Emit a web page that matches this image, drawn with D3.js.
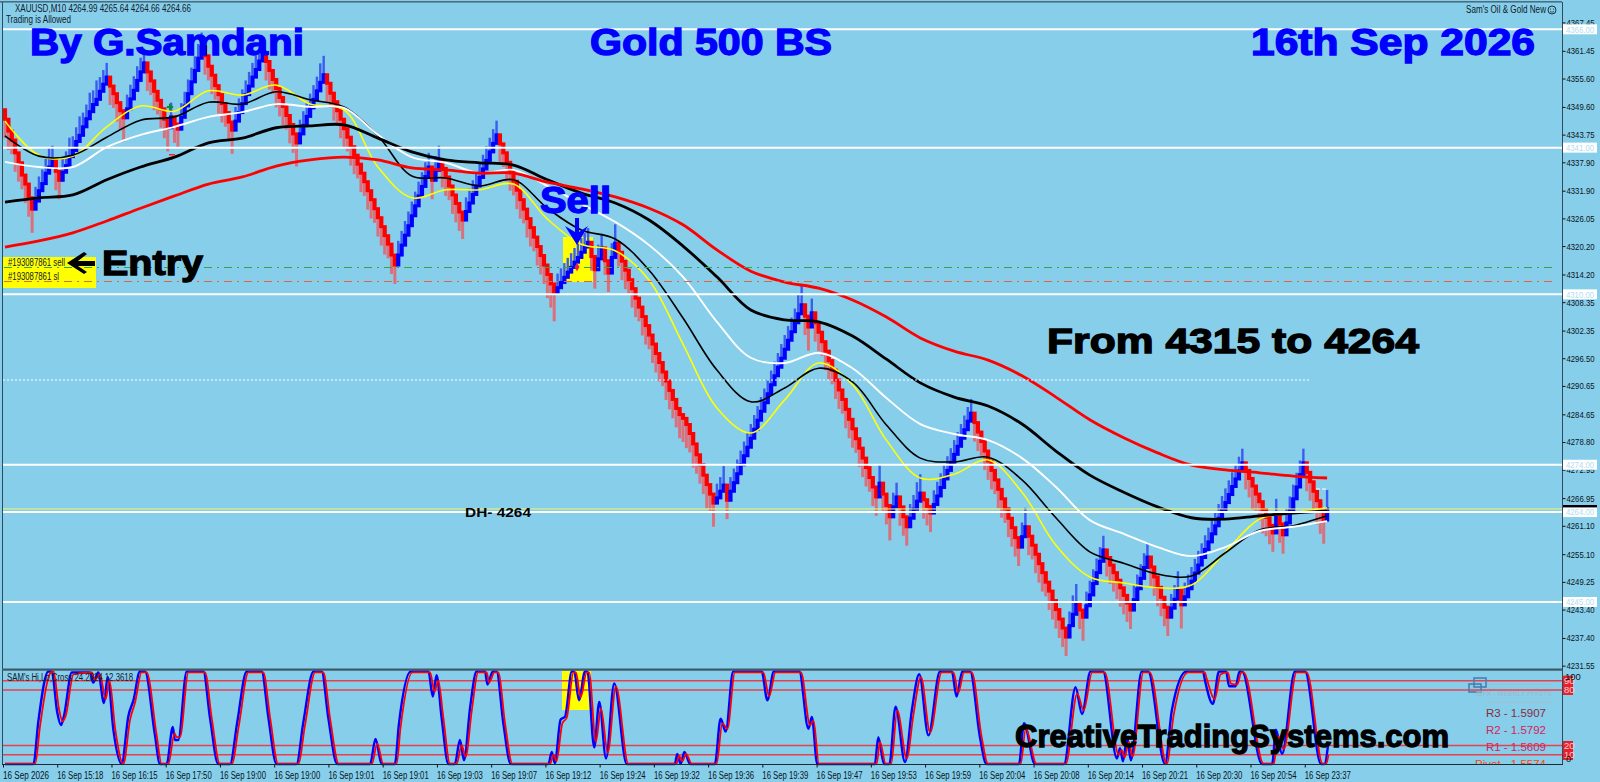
<!DOCTYPE html>
<html>
<head>
<meta charset="utf-8">
<script src="https://d3js.org/d3.v7.min.js"></script>
<style>
  html, body { margin: 0; padding: 0; background: #87ceeb; overflow: hidden; }
  text { font-family: "Liberation Sans", Arial, sans-serif; }
</style>
</head>
<body>
<div id="my_dataviz"></div>
<script>
// closing price of every M10 bar
var closes = [
  4347.0,4344.5,4342.6,4339.9,4337.8,4335.2,4333.3,4330.4,4328.0,
  4329.7,4331.9,4333.4,4335.6,4336.9,4338.4,4336.0,4334.1,
  4335.8,4337.2,4339.1,4340.4,4342.3,4343.6,4345.4,4347.1,4348.6,4350.1,4351.2,4352.9,4354.4,4355.9,
  4354.0,4352.4,4350.5,4348.8,4347.3,
  4349.2,4351.3,4353.1,4355.2,4357.0,4358.9,
  4357.0,4355.1,4352.9,4351.0,4349.2,4347.0,4345.2,
  4347.5,4346.0,4344.9,
  4347.4,4349.8,4352.4,4354.9,4357.3,4359.9,4362.3,
  4360.4,4358.2,4356.3,4354.1,4352.2,4350.3,4348.4,4346.4,4344.7,
  4346.6,4348.4,4350.3,4352.2,4354.0,4355.9,4357.5,4359.3,4361.0,
  4359.2,4357.3,4355.4,4353.5,4351.6,4349.7,4347.8,4345.9,4343.9,4342.0,
  4343.9,4345.7,4347.6,4349.4,4351.2,4353.0,4354.8,4356.4,
  4354.6,4352.5,4350.7,4348.8,4347.0,4345.0,4343.2,4341.2,4339.4,4337.5,4335.6,4333.8,4331.9,4330.0,4328.1,4326.2,4324.3,4322.4,4320.6,4318.3,4316.2,
  4318.3,4320.4,4322.5,4324.5,4326.6,4328.7,4330.8,4332.8,4334.9,4336.9,
  4334.1,4336.2,4338.4,
  4336.6,4334.8,4332.9,4331.0,4329.2,4327.4,4325.7,
  4327.5,4329.3,4331.1,4332.9,4334.7,4336.5,4338.3,4340.1,4341.9,4343.7,
  4341.8,4339.9,4337.9,4335.9,4333.9,4332.0,4330.0,4328.0,4326.0,4324.1,4322.1,4320.1,4318.2,4316.2,4314.2,4312.2,4310.3,
  4311.4,4312.5,4313.6,4314.7,4315.7,4316.8,4317.8,4318.9,4320.0,4321.0,
  4318.0,4315.2,4317.5,4319.8,4317.1,4314.5,4317.8,4320.8,
  4318.9,4317.0,4315.1,4313.1,4311.2,4309.2,4307.3,4305.3,4303.4,4301.4,4299.5,4297.5,4295.6,4293.6,4291.7,4289.7,4287.8,4285.9,
  4284.6,4283.8,4282.5,4280.6,4278.4,4276.1,4274.0,4271.8,4269.8,4267.8,4265.9,
  4267.0,4268.4,4269.7,4266.5,
  4268.4,4270.2,4272.1,4274.0,4275.9,4277.7,4279.6,4281.5,4283.4,4285.3,4287.1,4289.0,4290.9,4292.8,4294.6,4296.5,4298.4,4300.3,4302.1,4304.0,4305.9,4307.8,
  4305.4,4303.1,4306.1,
  4304.0,4302.0,4300.0,4298.0,4296.0,4294.0,4291.9,4289.8,4287.8,4285.7,4283.6,4281.6,4279.5,4277.5,4275.4,4273.4,4271.3,4269.3,4267.2,
  4270.1,4267.8,4265.4,4263.0,
  4265.1,4267.2,4265.1,4263.0,4260.9,
  4262.7,4264.6,4266.3,4268.0,
  4266.6,4265.2,4263.8,
  4265.6,4267.4,4269.2,4271.0,4272.8,4274.5,4276.2,4277.9,4279.6,4281.4,4283.2,4284.9,
  4282.9,4280.9,4278.9,4276.9,4274.8,4272.8,4270.8,4268.8,4266.8,4264.7,4262.7,4260.7,4258.6,4256.6,
  4258.8,4260.9,
  4258.9,4257.0,4255.1,4253.1,4251.2,4249.2,4247.3,4245.3,4243.4,4241.4,4239.5,4237.6,
  4240.0,4242.4,4244.8,4243.3,4241.8,
  4244.2,4246.5,4248.9,4251.2,4253.6,4256.0,
  4254.4,4252.8,4251.2,4249.6,4248.0,4246.4,4244.8,4243.3,
  4245.5,4247.8,4250.0,4252.3,4254.5,
  4252.4,4250.3,4248.1,4246.0,4243.9,4241.8,
  4243.7,4245.6,4247.5,4244.4,
  4246.1,4247.8,4249.4,4251.1,4252.8,4254.4,4256.1,4257.7,4259.4,4261.1,4262.7,4264.4,4266.0,4267.7,4269.4,4271.0,4272.7,4274.4,
  4272.8,4271.1,4269.5,4267.8,4266.2,4264.5,4262.9,4261.2,4259.6,
  4263.8,4261.5,4259.2,
  4261.7,4264.3,4266.8,4269.3,4271.9,4274.4,
  4272.4,4270.4,4268.4,4266.4,4264.4,4262.3,4264.66
];

// how far each bar's wick runs past its body, in price
var wicks = [
  4,4,3,4,4,3,4,4,5,3,3,3,3,4,3,4,4,3,3,4,
  3,3,4,3,3,4,3,4,3,3,3,4,3,4,4,5,3,3,3,3,
  3,3,4,3,4,3,4,4,5,3,4,4,3,3,3,3,3,3,3,4,
  3,4,3,4,4,3,4,5,3,3,3,3,3,3,3,3,3,4,4,3,
  4,4,4,3,4,4,5,3,3,3,3,3,3,4,4,4,3,4,3,4,
  4,3,4,4,3,4,3,4,4,3,4,4,4,3,4,4,3,3,3,3,
  3,3,3,3,3,3,4,3,3,4,4,3,4,4,4,4,3,3,3,3,
  3,3,3,3,3,3,4,3,4,4,3,4,4,3,4,4,3,4,4,4,
  5,5,6,3,3,3,3,3,3,3,3,3,3,3,4,3,3,3,4,3,
  4,3,4,4,3,4,4,3,4,4,3,4,4,4,3,4,4,4,4,5,
  5,5,4,5,4,4,4,5,4,5,3,3,4,4,3,3,3,3,3,3,
  3,3,3,3,3,3,3,3,3,3,3,3,3,3,4,4,4,5,3,4,
  4,3,4,4,3,4,4,3,4,4,4,3,4,4,4,3,4,4,4,4,
  4,5,3,3,4,4,4,3,3,4,4,4,4,4,3,3,3,3,3,3,
  3,3,3,3,3,3,4,4,3,4,4,4,3,4,4,3,4,4,4,4,
  3,4,4,3,4,4,4,3,4,4,4,4,4,4,3,4,4,4,5,3,
  3,3,3,3,3,4,4,4,4,4,4,4,4,3,3,3,3,3,4,4,
  4,4,4,4,3,3,4,5,3,3,3,3,3,3,3,3,3,3,3,3,
  3,3,3,3,3,3,4,4,5,4,4,5,4,4,4,3,4,4,3,3,
  3,3,3,3,4,4,4,5,5,5,4
];

// moving averages, one value every 10 bars
var maStep = 10;
var maRed = [4320.0,4321.3,4323.0,4325.5,4328.2,4330.8,4333.3,4334.8,4337.1,4338.4,4339.0,4338.4,4336.7,4336.3,4335.6,4335.6,4333.7,4332.3,4330.6,4328.2,4324.7,4319.4,4314.9,4312.6,4311.3,4308.8,4305.2,4300.8,4298.0,4296.1,4292.8,4288.3,4283.5,4279.7,4276.5,4273.9,4272.9,4272.3,4271.6,4271.2];
var maBlackThick = [4329.5,4330.4,4331.0,4334.2,4336.9,4339.0,4342.0,4343.0,4345.2,4345.6,4345.8,4343.0,4340.1,4338.4,4337.8,4337.3,4334.2,4331.4,4329.3,4325.7,4320.2,4313.7,4306.7,4304.6,4304.2,4301.2,4296.3,4291.3,4288.3,4286.4,4282.6,4276.9,4271.8,4268.2,4265.1,4262.8,4262.5,4263.2,4263.8,4264.2];
var maWhite = [4338.0,4336.9,4336.9,4341.1,4343.7,4345.4,4347.5,4348.5,4350.2,4349.6,4349.4,4343.7,4339.0,4337.8,4335.6,4336.3,4332.9,4329.1,4325.3,4320.4,4313.7,4304.2,4296.6,4295.5,4297.6,4294.4,4288.1,4282.6,4280.5,4279.2,4275.4,4269.3,4262.3,4259.4,4256.6,4254.7,4256.6,4260.0,4260.9,4262.1];
var maBlackThin = [4343.5,4339.2,4339.4,4343.2,4346.8,4347.5,4350.6,4350.2,4352.8,4351.1,4349.6,4343.5,4335.0,4334.6,4332.9,4334.2,4328.2,4323.6,4321.7,4315.1,4305.0,4294.0,4287.3,4290.2,4294.4,4291.5,4282.4,4275.4,4274.6,4275.6,4270.8,4262.8,4255.6,4253.2,4250.9,4250.5,4255.4,4260.2,4261.1,4263.2];
var maYellow = [4346.6,4339.4,4339.2,4345.4,4349.8,4348.7,4353.0,4352.1,4354.2,4350.2,4349.0,4336.9,4330.4,4332.1,4332.1,4333.3,4325.9,4320.6,4319.2,4313.0,4299.5,4286.0,4280.7,4287.7,4295.5,4290.9,4279.2,4271.2,4272.0,4275.0,4268.2,4257.0,4250.3,4249.0,4248.0,4248.6,4255.6,4262.5,4263.8,4264.9];

// oscillator in the lower window, [bar, value]
var stochBlue = [[0,0],[8.4,0],[9.8,45],[12.8,100],[13.8,100],[15.4,56],[16.5,42],[17.4,52],[19.7,99],[25.1,99],[26,88],[27.5,99],[29.2,66],[30.3,94],[32,36],[34.4,0],[36.4,52],[37.9,69],[39.8,100],[41.3,100],[44.2,32],[45.7,0],[47.7,0],[49.5,40],[50.1,26],[51.1,26],[53.6,100],[58.5,100],[60.5,49],[62.9,0],[66.4,0],[68.5,45],[71.3,100],[75.7,100],[77.7,50],[80.1,0],[86,0],[88,45],[91,100],[93.4,100],[95.4,49],[98,0],[107.7,0],[109.3,27],[111.1,0],[115,0],[116.2,43],[119.7,100],[124.9,100],[126.2,73],[127.3,96],[128.8,50],[130.8,0],[132.7,0],[134.2,26],[135.4,4],[137.2,61],[139.1,100],[141.6,100],[142.3,86],[143.9,100],[145,100],[147,44],[149.2,0],[160.3,0],[161.3,13],[162.2,1],[163.9,48],[165.2,51],[167.2,100],[167.9,100],[169.3,69],[171.1,100],[171.8,100],[173.8,18],[175.3,67],[177.3,6],[179.7,87],[183.4,0],[197.6,0],[198.3,11],[199.3,0],[200.4,13],[202.1,0],[209.4,0],[211.1,49],[212.6,35],[214.8,100],[223.2,100],[224.9,69],[226.8,100],[234.3,100],[237,38],[238,51],[239.6,0],[256.6,0],[257.6,29],[259.3,0],[260.9,0],[262.7,62],[265.5,2],[267.5,58],[269.7,97],[272.4,31],[275.8,100],[279.3,100],[280.7,73],[282.4,100],[284.7,100],[287.6,29],[289.5,0],[299.1,0],[300.6,44],[303.8,0],[312.4,0],[315.8,83],[317.7,54],[320.2,100],[323.9,100],[328,6],[328.9,17],[329.8,3],[331,29],[332.1,4],[335.3,100],[337.2,100],[342.2,0],[344.2,58],[348.5,100],[353.4,100],[354,90],[356.3,65],[358.1,100],[360.2,100],[361.1,84],[363,84],[364.2,100],[364.9,100],[370.8,0],[373.8,0],[374.9,37],[376.7,11],[380.5,100],[383.5,100],[388.2,0],[389.2,0],[390.4,24]];
var stochRed = [[0,0],[8.9,0],[10.3,40],[13.3,98],[14.3,100],[15.9,60],[17,46],[17.9,52],[20.2,97],[25.6,99],[26.5,91],[28,97],[29.7,70],[30.8,90],[32.5,38],[34.9,0],[36.9,48],[38.4,67],[40.3,99],[41.8,99],[44.7,32],[46.2,0],[48.2,0],[50,33],[50.6,29],[51.6,29],[54.1,99],[59,99],[61,49],[63.4,0],[66.9,0],[69,42],[71.8,99],[76.2,99],[78.2,50],[80.6,0],[86.5,0],[88.5,42],[91.5,99],[93.9,99],[95.9,49],[98.5,0],[108.2,0],[109.8,22],[111.6,0],[115.5,0],[116.7,40],[120.2,99],[125.4,99],[126.7,78],[127.8,90],[129.3,50],[131.3,0],[133.2,0],[134.7,20],[135.9,8],[137.7,58],[139.6,99],[142.1,99],[142.8,88],[144.4,99],[145.5,99],[147.5,44],[149.7,0],[160.8,0],[161.8,10],[162.7,3],[164.4,44],[165.7,50],[167.7,99],[168.4,99],[169.8,72],[171.6,99],[172.3,99],[174.3,24],[175.8,60],[177.8,12],[180.2,84],[183.9,0],[198.1,0],[198.8,9],[199.8,3],[200.9,11],[202.6,0],[209.9,0],[211.6,44],[213.1,38],[215.3,99],[223.7,99],[225.4,73],[227.3,99],[234.8,99],[237.5,42],[238.5,47],[240.1,0],[257.1,0],[258.1,24],[259.8,0],[261.4,0],[263.2,58],[266,6],[268,54],[270.2,94],[272.9,34],[276.3,99],[279.8,99],[281.2,77],[282.9,99],[285.2,99],[288.1,29],[290,0],[299.6,0],[301.1,38],[304.3,0],[312.9,0],[316.3,76],[318.2,58],[320.7,99],[324.4,99],[328.5,10],[329.4,15],[330.3,7],[331.5,24],[332.6,8],[335.8,99],[337.7,99],[342.7,0],[344.7,52],[349,99],[353.9,99],[354.5,92],[356.8,70],[358.6,97],[360.7,99],[361.6,87],[363.5,86],[364.7,99],[365.4,99],[371.3,0],[374.3,0],[375.4,30],[377.2,16],[381,99],[384,99],[388.7,0],[389.7,0],[390.4,10]];
var stochLevels = [90, 80, 20, 10];

// horizontal levels and axis labels
var hLevels = [4366, 4341, 4310, 4274, 4264, 4245];
var bidPrice = 4264.66;
var sellPrice = 4315.6;
var stopPrice = 4312.7;
var dottedPrice = 4291.9;
var priceTicks = [4367.45,4361.45,4355.60,4349.60,4343.75,4337.90,4331.90,4326.05,4320.20,4314.20,4308.35,4302.35,4296.50,4290.65,4284.65,4278.80,4272.95,4266.95,4261.10,4255.10,4249.25,4243.40,4237.40,4231.55];
var timeLabels = ["16 Sep 2026","16 Sep 15:18","16 Sep 16:15","16 Sep 17:50","16 Sep 19:00","16 Sep 19:00","16 Sep 19:01","16 Sep 19:01","16 Sep 19:03","16 Sep 19:07","16 Sep 19:12","16 Sep 19:24","16 Sep 19:32","16 Sep 19:36","16 Sep 19:39","16 Sep 19:47","16 Sep 19:53","16 Sep 19:59","16 Sep 20:04","16 Sep 20:08","16 Sep 20:14","16 Sep 20:21","16 Sep 20:30","16 Sep 20:54","16 Sep 23:37"];
var barsPerLabel = 16;
var pivotNames = ["R3 - 1.5907", "R2 - 1.5792", "R1 - 1.5609", "Pivot - 1.5574"];

// ------------------------------------------------------------------
var width = 1600, height = 782;
var plotLeft = 3, plotRight = 1562;

var svg = d3.select("#my_dataviz")
  .append("svg")
    .attr("width", width)
    .attr("height", height)
    .style("display", "block");

svg.append("rect").attr("width", width).attr("height", height).attr("fill", "#87ceeb");

var x = d3.scaleLinear().domain([0, 390]).range([5, 1327.1]);
var y = d3.scaleLinear().domain([4366, 4245]).range([29.3, 602]);
var yStoch = d3.scaleLinear().domain([0, 100]).range([764, 671.5]);

// clip for the lower window, the pivot text is cut by its edge
svg.append("clipPath").attr("id", "stochClip")
  .append("rect").attr("x", plotLeft).attr("y", 670).attr("width", plotRight - plotLeft).attr("height", 94);

// yellow highlights sit behind the bars
svg.append("rect").attr("x", 563).attr("y", 237).attr("width", 30).attr("height", 45).attr("fill", "#ffff00");
svg.append("rect").attr("x", 562).attr("y", 671).attr("width", 29).attr("height", 39).attr("fill", "#ffff00");
svg.append("rect").attr("x", 3).attr("y", 257).attr("width", 93).attr("height", 31).attr("fill", "#ffff00");

// bars
var bars = closes.map(function(c, i) {
  var o = i == 0 ? 4349 : closes[i - 1];
  return {i: i, open: o, close: c, wick: wicks[i] || 3, up: c >= o};
});

svg.append("g").selectAll("line").data(bars).enter().append("line")
  .attr("x1", function(d) { return x(d.i); })
  .attr("x2", function(d) { return x(d.i); })
  .attr("y1", function(d) { return y(d.up ? Math.min(d.open, d.close) : Math.max(d.open, d.close)); })
  .attr("y2", function(d) { return y(d.up ? Math.max(d.open, d.close) + d.wick : Math.min(d.open, d.close) - d.wick); })
  .attr("stroke", function(d) { return d.up ? "#3a5cf2" : "#d9707c"; })
  .attr("stroke-width", function(d) { return d.up ? 2.4 : 3; });

// the bodies overlap a little so the legs read as one solid band
svg.append("g").selectAll("rect").data(bars).enter().append("rect")
  .attr("x", function(d) { return x(d.i) - 2.1; })
  .attr("width", 4.2)
  .attr("y", function(d) { return y(Math.max(d.open, d.close)) - 1.5; })
  .attr("height", function(d) { return Math.abs(y(d.open) - y(d.close)) + 3; })
  .attr("fill", function(d) { return d.up ? "#0000ff" : "#ff0000"; });

// moving averages
var maLine = d3.line()
  .x(function(d, i) { return x(i * maStep); })
  .y(function(d) { return y(d); })
  .curve(d3.curveCatmullRom.alpha(0.5));

function addMa(values, color, w) {
  svg.append("path").datum(values)
    .attr("d", maLine)
    .attr("fill", "none")
    .attr("stroke", color)
    .attr("stroke-width", w);
}
addMa(maYellow, "#ffff00", 1.6);
addMa(maBlackThin, "#000000", 1.6);
addMa(maWhite, "#ffffff", 1.9);
addMa(maBlackThick, "#000000", 2.8);
addMa(maRed, "#ff0000", 2.8);

// horizontal lines
svg.append("g").selectAll("line").data(hLevels).enter().append("line")
  .attr("x1", plotLeft).attr("x2", plotRight)
  .attr("y1", function(d) { return y(d); })
  .attr("y2", function(d) { return y(d); })
  .attr("stroke", "#ffffff").attr("stroke-width", 2);

svg.append("line").attr("x1", plotLeft).attr("x2", plotRight)
  .attr("y1", y(bidPrice)).attr("y2", y(bidPrice))
  .attr("stroke", "#f4f76a").attr("stroke-width", 1);

svg.append("line").attr("x1", 4).attr("x2", 1556)
  .attr("y1", y(sellPrice)).attr("y2", y(sellPrice))
  .attr("stroke", "#2ea84a").attr("stroke-width", 1).attr("stroke-dasharray", "8,5,2,5")
  .attr("shape-rendering", "crispEdges");
svg.append("line").attr("x1", 4).attr("x2", 1556)
  .attr("y1", y(stopPrice)).attr("y2", y(stopPrice))
  .attr("stroke", "#e2643f").attr("stroke-width", 1).attr("stroke-dasharray", "8,5,2,5")
  .attr("shape-rendering", "crispEdges");
svg.append("line").attr("x1", 3).attr("x2", 1311)
  .attr("y1", y(dottedPrice)).attr("y2", y(dottedPrice))
  .attr("stroke", "#ffffff").attr("stroke-width", 1).attr("stroke-dasharray", "2,2");
svg.append("line").attr("x1", 1316).attr("x2", 1328)
  .attr("y1", 489).attr("y2", 489)
  .attr("stroke", "#ffffff").attr("stroke-width", 1).attr("stroke-dasharray", "4,2");

// small trade markers
svg.append("path").attr("d", d3.symbol(d3.symbolCross, 22)).attr("transform", "translate(170,107)").attr("fill", "#0c8a2c");
svg.append("path").attr("d", d3.symbol(d3.symbolDiamond, 22)).attr("transform", "translate(577,267)").attr("fill", "#f02040");
svg.append("rect").attr("x", 169).attr("y", 154).attr("width", 6).attr("height", 1.5).attr("fill", "#ff2020");

// lower window
svg.append("g").selectAll("line").data(stochLevels).enter().append("line")
  .attr("x1", plotLeft).attr("x2", plotRight)
  .attr("y1", function(d) { return yStoch(d); })
  .attr("y2", function(d) { return yStoch(d); })
  .attr("stroke", "#e8404e").attr("stroke-width", 1.3);

var stochLine = d3.line()
  .x(function(d) { return x(d[0]); })
  .y(function(d) { return yStoch(d[1]); })
  .curve(d3.curveMonotoneX);

svg.append("path").datum(stochBlue).attr("d", stochLine)
  .attr("fill", "none").attr("stroke", "#0000ff").attr("stroke-width", 2.4);
svg.append("path").datum(stochRed).attr("d", stochLine)
  .attr("fill", "none").attr("stroke", "#ff0000").attr("stroke-width", 1.8);

// frame
var frameColor = "#2f4a58";
svg.append("rect").attr("x", 0).attr("y", 1).attr("width", plotRight).attr("height", 1.6).attr("fill", "#4a6f82");
svg.append("rect").attr("x", 2).attr("y", 2).attr("width", 1).attr("height", 762).attr("fill", frameColor);
svg.append("rect").attr("x", plotRight).attr("y", 2).attr("width", 1).attr("height", 762).attr("fill", frameColor);
svg.append("rect").attr("x", 2).attr("y", 668.5).attr("width", plotRight - 2).attr("height", 2.2).attr("fill", "#3e5a68");
svg.append("rect").attr("x", 2).attr("y", 764).attr("width", plotRight - 1).attr("height", 1).attr("fill", "#1c2c34");

// right price axis
var axisFont = 9.2;
var priceAxis = svg.append("g")
  .attr("transform", "translate(" + (plotRight + 0.5) + ",0)")
  .call(d3.axisRight(y).tickValues(priceTicks).tickSize(3).tickPadding(1).tickFormat(d3.format(".2f")));
priceAxis.select(".domain").remove();
priceAxis.selectAll("line").attr("stroke", "#111");
priceAxis.selectAll("text").attr("fill", "#0a1418").style("font-size", axisFont + "px").attr("textLength", 28).attr("lengthAdjust", "spacingAndGlyphs");

// labels of the white levels on the axis
var levelBoxes = svg.append("g").selectAll("g").data(hLevels).enter().append("g")
  .attr("transform", function(d) { return "translate(" + (plotRight + 1) + "," + y(d) + ")"; });
levelBoxes.append("rect").attr("x", 0).attr("y", -5).attr("width", 34).attr("height", 10).attr("fill", "#ffffff");
levelBoxes.append("text").attr("x", 3).attr("y", 3.3)
  .attr("fill", "#b4dcf0").style("font-size", axisFont + "px")
  .attr("textLength", 28).attr("lengthAdjust", "spacingAndGlyphs")
  .text(function(d) { return d.toFixed(2); });
svg.append("rect").attr("x", plotRight + 1).attr("y", 505).attr("width", 34).attr("height", 2.4).attr("fill", "#000");

// bottom time axis
var timeAxis = svg.append("g")
  .attr("transform", "translate(-2,764.5)")
  .call(d3.axisBottom(x)
    .tickValues(timeLabels.map(function(d, i) { return i * barsPerLabel; }))
    .tickSize(3).tickPadding(4)
    .tickFormat(function(d, i) { return timeLabels[i]; }));
timeAxis.select(".domain").remove();
timeAxis.selectAll("line").attr("stroke", "#111");
timeAxis.selectAll("text").attr("fill", "#0a1418").style("font-size", "10px")
  .style("text-anchor", "start").attr("dx", -0.5)
  .attr("textLength", 46).attr("lengthAdjust", "spacingAndGlyphs");

// lower window scale
var stochAxis = svg.append("g");
[[90, 680.7], [80, 690], [20, 746], [10, 755]].forEach(function(p) {
  stochAxis.append("rect").attr("x", plotRight + 1).attr("y", p[1] - 5).attr("width", 10).attr("height", 10).attr("fill", "#e8202c");
  stochAxis.append("text").attr("x", plotRight + 2).attr("y", p[1] + 3.3).attr("fill", "#f4d0d0").style("font-size", "9.5px").text(p[0]);
});
stochAxis.append("text").attr("x", plotRight + 3).attr("y", 680).attr("fill", "#0a1418").style("font-size", "9.5px").text("100");
stochAxis.append("text").attr("x", plotRight + 4).attr("y", 762).attr("fill", "#0a1418").style("font-size", "9.5px").text("0");

// small header texts
function label(tx, ty, str, size, color, len) {
  var t = svg.append("text").attr("x", tx).attr("y", ty).attr("fill", color).style("font-size", size + "px").text(str);
  if (len) t.attr("textLength", len).attr("lengthAdjust", "spacingAndGlyphs");
  return t;
}
label(15, 12, "XAUUSD,M10  4264.99 4265.64 4264.66 4264.66", 10, "#10202a", 176);
label(6, 23, "Trading is Allowed", 10, "#10202a", 65);
label(1466, 13, "Sam's Oil & Gold New", 10, "#10202a", 80);
svg.append("circle").attr("cx", 1552).attr("cy", 10).attr("r", 4).attr("fill", "none").attr("stroke", "#10202a").attr("stroke-width", 0.9);
svg.append("circle").attr("cx", 1550.5).attr("cy", 9).attr("r", 0.6).attr("fill", "#10202a");
svg.append("circle").attr("cx", 1553.5).attr("cy", 9).attr("r", 0.6).attr("fill", "#10202a");
svg.append("path").attr("d", "M1550,11.4 Q1552,13.2 1554,11.4").attr("fill", "none").attr("stroke", "#10202a").attr("stroke-width", 0.7);
label(7, 681, "SAM's Hi,Lo,Cross 24.2824 12.3618", 10, "#10202a", 126);
label(8, 266, "#193087861 sell", 10, "#10202a", 57);
label(8, 280, "#193087861 sl", 10, "#10202a", 51);

// big annotations
function bigText(tx, ty, str, size, color, len) {
  return label(tx, ty, str, size, color, len)
    .style("font-weight", "bold")
    .attr("stroke", color).attr("stroke-width", 1.3);
}
bigText(30, 55, "By G.Samdani", 36, "#0000ff", 274);
bigText(590, 55, "Gold 500 BS", 36, "#0000ff", 242);
bigText(1251, 55, "16th Sep 2026", 36, "#0000ff", 284);
bigText(540, 213, "Sell", 36, "#0000ff", 71);
bigText(102, 275, "Entry", 35, "#000000", 101);
bigText(1047, 353, "From 4315 to 4264", 35, "#000000", 372);
bigText(1015, 747, "CreativeTradingSystems.com", 32, "#000000", 434);
label(465, 517, "DH- 4264", 12.5, "#000000", 66).style("font-weight", "bold");

// arrows
svg.append("path").attr("d", "M575,218 L579,218 L579,232 L588,226 L577,245 L565,226 L575,232 Z").attr("fill", "#0000ff");
svg.append("path").attr("d", "M67,263 L84,252 L87,254 L78,261 L95,261 L95,266 L78,266 L87,272 L84,274 Z").attr("fill", "#000000");

// pivots box
var pivotBox = svg.append("g");
pivotBox.append("rect").attr("x", 1474).attr("y", 678).attr("width", 12).attr("height", 9).attr("fill", "none").attr("stroke", "#4a7fb0").attr("stroke-width", 1.6);
pivotBox.append("rect").attr("x", 1469).attr("y", 684).attr("width", 12).attr("height", 8).attr("fill", "none").attr("stroke", "#4a7fb0").attr("stroke-width", 1.6);
pivotBox.append("rect").attr("x", 1487).attr("y", 683.5).attr("width", 65).attr("height", 1.2).attr("fill", "#a6bfcc");
pivotBox.append("rect").attr("x", 1485).attr("y", 701.5).attr("width", 67).attr("height", 1.2).attr("fill", "#a6bfcc");
label(1476, 696, "IDFX - WEEKLY PIVOTS", 8, "#9dbbcc", 76).style("font-weight", "bold");
var pivotColors = ["#8a2b3c", "#d3245c", "#d3245c", "#ff4500"];
var pivotY = [717, 734, 750.5, 768];
pivotBox.append("g").attr("clip-path", "url(#stochClip)")
  .selectAll("text").data(pivotNames).enter().append("text")
    .attr("x", 1546)
    .attr("y", function(d, i) { return pivotY[i]; })
    .attr("text-anchor", "end")
    .attr("fill", function(d, i) { return pivotColors[i]; })
    .style("font-size", "11.5px")
    .text(function(d) { return d; });
</script>
</body>
</html>
